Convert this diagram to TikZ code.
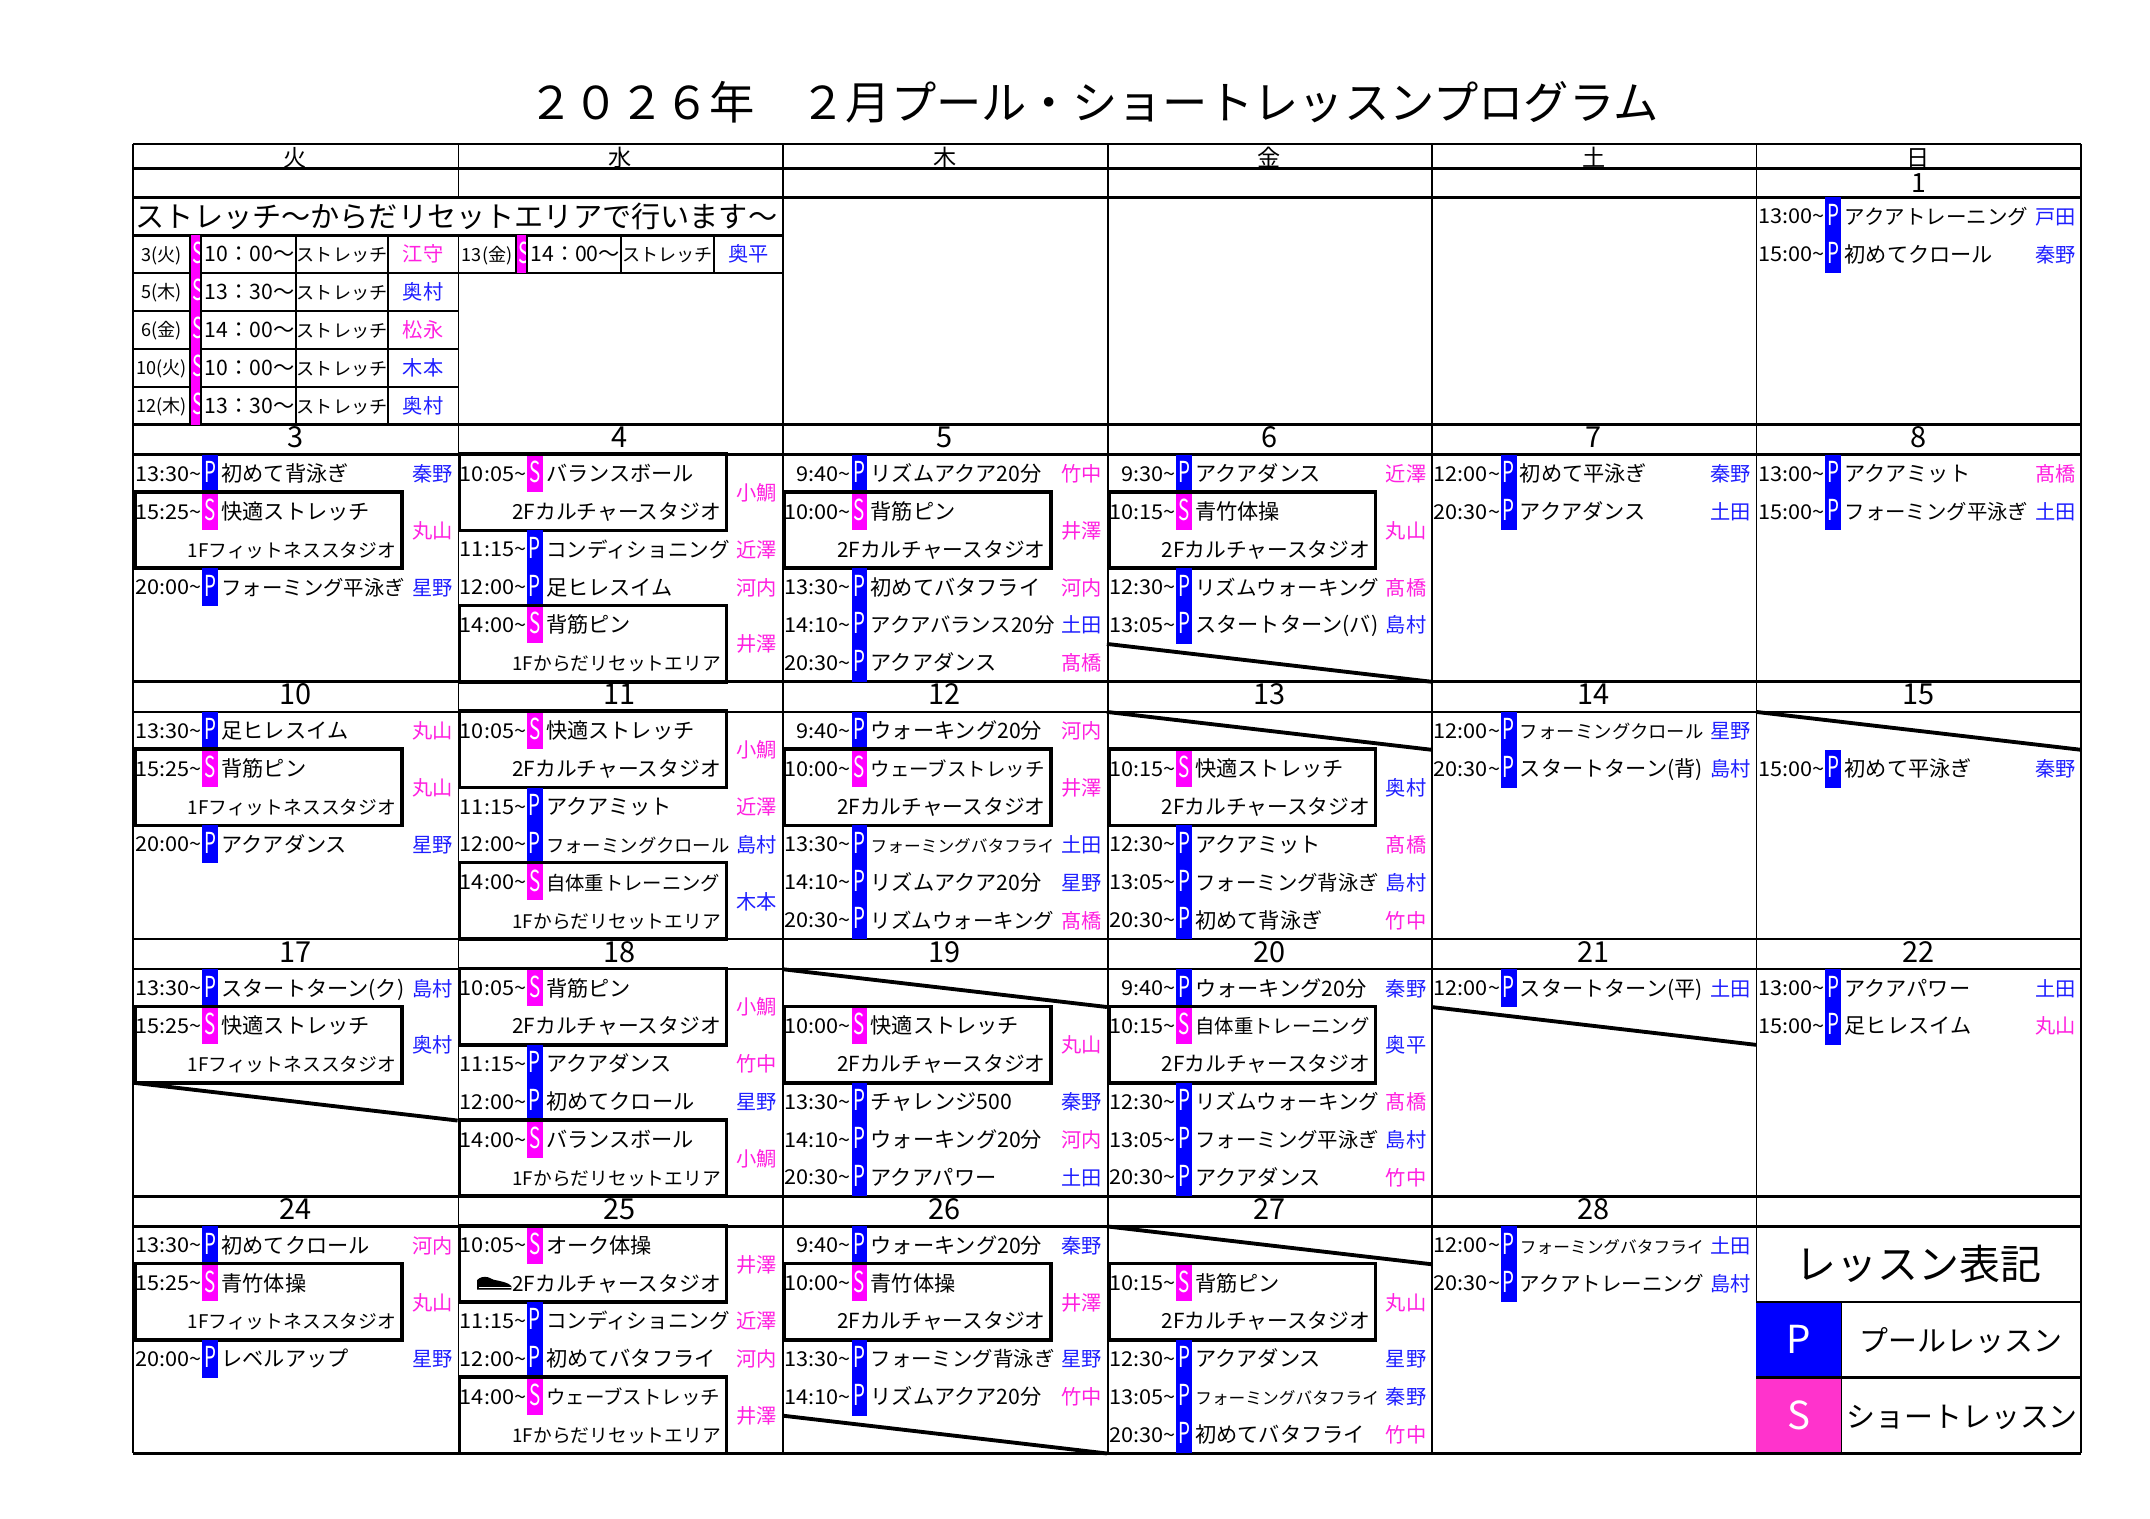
\documentclass[tikz,border=0pt]{standalone}
\usepackage{fontspec}
\usepackage{graphicx}
\setmainfont{Noto Sans CJK JP}
\newfontfamily\tfont{Noto Sans CJK JP}[FakeStretch=1.06]
\definecolor{barblue}{HTML}{0000FF}
\definecolor{barmag}{HTML}{FF00FF}
\definecolor{nB}{HTML}{1F1FFF}
\definecolor{nM}{HTML}{FF20E0}
\definecolor{legS}{HTML}{FF33CC}
\newdimen\upx \upx=0.2mm
\newsavebox\fitsave
\newcommand\fitw[2]{\sbox\fitsave{#2}\ifdim\wd\fitsave>#1\upx\resizebox{#1\upx}{!}{\usebox\fitsave}\else\usebox\fitsave\fi}
\newcommand\tld{\textasciitilde}
\def\wtop#1{\ifcase#1\or144\or331.6\or519.2\or706.8\or894.4\fi}
\newcommand\PE[7]{%
 \pgfmathsetmacro\xo{97+(#1-1)*236.75}%
 \pgfmathsetmacro\yo{\wtop{#2}+(#3-1)*27.6}%
 \fill[barblue] (\xo+50.5,\yo) rectangle (\xo+62,\yo+27.6);
 \node[bartext,anchor=base] at (\xo+56.25,\yo+20.3) {\scalebox{0.65}[1]{P}};
 \node[timetext,anchor=base east] at (\xo+50,\yo+19.3) {#4\tld};
 \node[titletext,anchor=base west] at (\xo+64.5,\yo+19.6) {\fitw{134}{#5}};
 \node[nametext,text=#7,anchor=base east] at (\xo+233,\yo+19.6) {#6};
}
\newcommand\SE[8]{%
 \pgfmathsetmacro\xo{97+(#1-1)*236.75}%
 \pgfmathsetmacro\yo{\wtop{#2}+(#3-1)*27.6}%
 \fill[barmag] (\xo+50.5,\yo) rectangle (\xo+62,\yo+27.1);
 \node[bartext,anchor=base] at (\xo+56.25,\yo+20.3) {\scalebox{0.65}[1]{S}};
 \node[timetext,anchor=base east] at (\xo+50,\yo+19.3) {#4\tld};
 \node[titletext,anchor=base west] at (\xo+64.5,\yo+19.6) {\fitw{127}{#5}};
 \node[titletext,anchor=base east] at (\xo+192,\yo+47.2) {\fitw{152}{#6}};
 \node[nametext,text=#8,anchor=base east] at (\xo+233,\yo+33.4) {#7};
 \draw[sframe] (\xo+1.5,\yo-0.5) rectangle (\xo+196,\yo+55.2);
}
\newcommand\DG[3]{%
 \pgfmathsetmacro\xo{97+(#1-1)*236.75}%
 \pgfmathsetmacro\yo{\wtop{#2}+(#3-1)*27.6}%
 \draw[diag] (\xo,\yo) -- (\xo+236.75,\yo+27.6);
}
\newcommand\ST[6]{%
 \pgfmathsetmacro\yo{144+#2*27.6}%
 \fill[barmag] (#1+41.5,\yo) rectangle (#1+49.5,\yo+27.6);
 \begin{scope}\clip (#1+41.5,\yo) rectangle (#1+49.5,\yo+27.6);
 \node[bartext,anchor=base] at (#1+47.5,\yo+20.3) {\scalebox{0.65}[1]{S}};\end{scope}
 \node[smalltext,anchor=base] at (#1+20.75,\yo+18.8) {\fitw{40}{#3}};
 \node[titletext,anchor=base] at (#1+85,\yo+19.4) {\fitw{68}{#4}};
 \node[titletext,anchor=base] at (#1+152.5,\yo+19.4) {\fitw{66}{ストレッチ}};
 \node[nametext,text=#6,anchor=base] at (#1+211.5,\yo+19.4) {#5};
}
\begin{document}
\begin{tikzpicture}[x=0.2mm,y=-0.2mm,
 txt/.style={inner sep=0pt,outer sep=0pt},
 timetext/.style={txt,font=\tfont\fontsize{8.5pt}{9pt}\selectfont},
 titletext/.style={txt,font=\fontsize{8.8pt}{9pt}\selectfont},
 nametext/.style={txt,font=\fontsize{8.4pt}{9pt}\selectfont},
 smalltext/.style={txt,font=\fontsize{7.5pt}{8pt}\selectfont},
 bartext/.style={txt,text=white,font=\fontsize{12pt}{12pt}\selectfont},
 datetext/.style={txt,font=\fontsize{12pt}{12pt}\selectfont},
 daytext/.style={txt,font=\fontsize{9.6pt}{10pt}\selectfont},
 sframe/.style={draw=black,line width=1.5pt},
 diag/.style={draw=black,line width=1.6pt},
 hline/.style={draw=black,line width=1.1pt},
 vline/.style={draw=black,line width=0.6pt},
 sline/.style={draw=black,line width=0.8pt}]
\fill[white] (0,0) rectangle (1568,1107.1);
\useasboundingbox (0,0) rectangle (1568,1107.1);
% title
\node[txt,anchor=base,font=\fontsize{18.8pt}{20pt}\selectfont] (title) at (797.5,87) {２０２６年　２月プール・ショートレッスンプログラム};
% day names (clipped by the header row)
\begin{scope}
\clip (97,105) rectangle (1517.5,123);
\foreach \d [count=\i] in {火,水,木,金,土,日}
 \node[daytext,anchor=base] (day\i) at (97+\i*236.75-118.375,121.5) {\d};
\end{scope}
% grid
\foreach \y in {105,123,144,309.6,331.6,497.2,519.2,684.8,706.8,872.4,894.4,1060}
 \draw[hline] (97,\y) -- (1517.5,\y);
\foreach \x in {97,571,808,1044.5,1281,1517.5}
 \draw[vline] (\x,105) -- (\x,1060);
\draw[vline] (334.5,105) -- (334.5,144);
\draw[vline] (334.5,171.6) -- (334.5,1060);
% dates
\node[datetext,anchor=base,font=\fontsize{11pt}{12pt}\selectfont] (d1) at (1399.25,140.5) {1};
\foreach \d [count=\i] in {3,4,5,6,7,8}
 \node[datetext,anchor=base] at (97+\i*236.75-118.375,326.5) {\d};
\foreach \d [count=\i] in {10,11,12,13,14,15}
 \node[datetext,anchor=base] at (97+\i*236.75-118.375,514.1) {\d};
\foreach \d [count=\i] in {17,18,19,20,21,22}
 \node[datetext,anchor=base] at (97+\i*236.75-118.375,701.7) {\d};
\foreach \d [count=\i] in {24,25,26,27,28}
 \node[datetext,anchor=base] at (97+\i*236.75-118.375,889.3) {\d};
% stretch table
\node[txt,anchor=base west,font=\fontsize{12.1pt}{13pt}\selectfont] (banner) at (99,166) {ストレッチ～からだリセットエリアで行います～};
\draw[hline] (97,171.6) -- (571,171.6);
\foreach \k in {2,3,4,5} \draw[sline] (97,144+\k*27.6) -- (334.5,144+\k*27.6);
\draw[sline] (334.5,199.2) -- (571,199.2);
\ST{97}{1}{3(火)}{10：00～}{江守}{nM}
\ST{97}{2}{5(木)}{13：30～}{奥村}{nB}
\ST{97}{3}{6(金)}{14：00～}{松永}{nM}
\ST{97}{4}{10(火)}{10：00～}{木本}{nB}
\ST{97}{5}{12(木)}{13：30～}{奥村}{nB}
\ST{334.5}{1}{13(金)}{14：00～}{奥平}{nB}
\foreach \x in {138.5,146.5,216,283} \draw[sline] (\x,171.6) -- (\x,309.6);
\foreach \x in {376.5,384.5,453,521} \draw[sline] (\x,171.6) -- (\x,199.2);
% week 1
\PE{6}{1}{1}{13:00}{アクアトレーニング}{戸田}{nB}
\PE{6}{1}{2}{15:00}{初めてクロール}{秦野}{nB}
% week 2
\PE{1}{2}{1}{13:30}{初めて背泳ぎ}{秦野}{nB}
\SE{1}{2}{2}{15:25}{快適ストレッチ}{1Fフィットネススタジオ}{丸山}{nM}
\PE{1}{2}{4}{20:00}{フォーミング平泳ぎ}{星野}{nB}
\SE{2}{2}{1}{10:05}{バランスボール}{2Fカルチャースタジオ}{小鯛}{nM}
\PE{2}{2}{3}{11:15}{コンディショニング}{近澤}{nM}
\PE{2}{2}{4}{12:00}{足ヒレスイム}{河内}{nM}
\SE{2}{2}{5}{14:00}{背筋ピン}{1Fからだリセットエリア}{井澤}{nM}
\PE{3}{2}{1}{9:40}{リズムアクア20分}{竹中}{nM}
\SE{3}{2}{2}{10:00}{背筋ピン}{2Fカルチャースタジオ}{井澤}{nM}
\PE{3}{2}{4}{13:30}{初めてバタフライ}{河内}{nM}
\PE{3}{2}{5}{14:10}{アクアバランス20分}{土田}{nB}
\PE{3}{2}{6}{20:30}{アクアダンス}{髙橋}{nM}
\PE{4}{2}{1}{9:30}{アクアダンス}{近澤}{nM}
\SE{4}{2}{2}{10:15}{青竹体操}{2Fカルチャースタジオ}{丸山}{nM}
\PE{4}{2}{4}{12:30}{リズムウォーキング}{髙橋}{nM}
\PE{4}{2}{5}{13:05}{スタートターン(バ)}{島村}{nB}
\DG{4}{2}{6}
\PE{5}{2}{1}{12:00}{初めて平泳ぎ}{秦野}{nB}
\PE{5}{2}{2}{20:30}{アクアダンス}{土田}{nB}
\PE{6}{2}{1}{13:00}{アクアミット}{髙橋}{nM}
\PE{6}{2}{2}{15:00}{フォーミング平泳ぎ}{土田}{nB}
% week 3
\PE{1}{3}{1}{13:30}{足ヒレスイム}{丸山}{nM}
\SE{1}{3}{2}{15:25}{背筋ピン}{1Fフィットネススタジオ}{丸山}{nM}
\PE{1}{3}{4}{20:00}{アクアダンス}{星野}{nB}
\SE{2}{3}{1}{10:05}{快適ストレッチ}{2Fカルチャースタジオ}{小鯛}{nM}
\PE{2}{3}{3}{11:15}{アクアミット}{近澤}{nM}
\PE{2}{3}{4}{12:00}{フォーミングクロール}{島村}{nB}
\SE{2}{3}{5}{14:00}{自体重トレーニング}{1Fからだリセットエリア}{木本}{nB}
\PE{3}{3}{1}{9:40}{ウォーキング20分}{河内}{nM}
\SE{3}{3}{2}{10:00}{ウェーブストレッチ}{2Fカルチャースタジオ}{井澤}{nM}
\PE{3}{3}{4}{13:30}{フォーミングバタフライ}{土田}{nB}
\PE{3}{3}{5}{14:10}{リズムアクア20分}{星野}{nB}
\PE{3}{3}{6}{20:30}{リズムウォーキング}{髙橋}{nM}
\DG{4}{3}{1}
\SE{4}{3}{2}{10:15}{快適ストレッチ}{2Fカルチャースタジオ}{奥村}{nB}
\PE{4}{3}{4}{12:30}{アクアミット}{髙橋}{nM}
\PE{4}{3}{5}{13:05}{フォーミング背泳ぎ}{島村}{nB}
\PE{4}{3}{6}{20:30}{初めて背泳ぎ}{竹中}{nM}
\PE{5}{3}{1}{12:00}{フォーミングクロール}{星野}{nB}
\PE{5}{3}{2}{20:30}{スタートターン(背)}{島村}{nB}
\DG{6}{3}{1}
\PE{6}{3}{2}{15:00}{初めて平泳ぎ}{秦野}{nB}
% week 4
\PE{1}{4}{1}{13:30}{スタートターン(ク)}{島村}{nB}
\SE{1}{4}{2}{15:25}{快適ストレッチ}{1Fフィットネススタジオ}{奥村}{nB}
\DG{1}{4}{4}
\SE{2}{4}{1}{10:05}{背筋ピン}{2Fカルチャースタジオ}{小鯛}{nM}
\PE{2}{4}{3}{11:15}{アクアダンス}{竹中}{nM}
\PE{2}{4}{4}{12:00}{初めてクロール}{星野}{nB}
\SE{2}{4}{5}{14:00}{バランスボール}{1Fからだリセットエリア}{小鯛}{nM}
\DG{3}{4}{1}
\SE{3}{4}{2}{10:00}{快適ストレッチ}{2Fカルチャースタジオ}{丸山}{nM}
\PE{3}{4}{4}{13:30}{チャレンジ500}{秦野}{nB}
\PE{3}{4}{5}{14:10}{ウォーキング20分}{河内}{nM}
\PE{3}{4}{6}{20:30}{アクアパワー}{土田}{nB}
\PE{4}{4}{1}{9:40}{ウォーキング20分}{秦野}{nB}
\SE{4}{4}{2}{10:15}{自体重トレーニング}{2Fカルチャースタジオ}{奥平}{nB}
\PE{4}{4}{4}{12:30}{リズムウォーキング}{髙橋}{nM}
\PE{4}{4}{5}{13:05}{フォーミング平泳ぎ}{島村}{nB}
\PE{4}{4}{6}{20:30}{アクアダンス}{竹中}{nM}
\PE{5}{4}{1}{12:00}{スタートターン(平)}{土田}{nB}
\DG{5}{4}{2}
\PE{6}{4}{1}{13:00}{アクアパワー}{土田}{nB}
\PE{6}{4}{2}{15:00}{足ヒレスイム}{丸山}{nM}
% week 5
\PE{1}{5}{1}{13:30}{初めてクロール}{河内}{nM}
\SE{1}{5}{2}{15:25}{青竹体操}{1Fフィットネススタジオ}{丸山}{nM}
\PE{1}{5}{4}{20:00}{レベルアップ}{星野}{nB}
\SE{2}{5}{1}{10:05}{オーク体操}{2Fカルチャースタジオ}{井澤}{nM}
\PE{2}{5}{3}{11:15}{コンディショニング}{近澤}{nM}
\PE{2}{5}{4}{12:00}{初めてバタフライ}{河内}{nM}
\SE{2}{5}{5}{14:00}{ウェーブストレッチ}{1Fからだリセットエリア}{井澤}{nM}
\PE{3}{5}{1}{9:40}{ウォーキング20分}{秦野}{nB}
\SE{3}{5}{2}{10:00}{青竹体操}{2Fカルチャースタジオ}{井澤}{nM}
\PE{3}{5}{4}{13:30}{フォーミング背泳ぎ}{星野}{nB}
\PE{3}{5}{5}{14:10}{リズムアクア20分}{竹中}{nM}
\DG{3}{5}{6}
\DG{4}{5}{1}
\SE{4}{5}{2}{10:15}{背筋ピン}{2Fカルチャースタジオ}{丸山}{nM}
\PE{4}{5}{4}{12:30}{アクアダンス}{星野}{nB}
\PE{4}{5}{5}{13:05}{フォーミングバタフライ}{秦野}{nB}
\PE{4}{5}{6}{20:30}{初めてバタフライ}{竹中}{nM}
\PE{5}{5}{1}{12:00}{フォーミングバタフライ}{土田}{nB}
\PE{5}{5}{2}{20:30}{アクアトレーニング}{島村}{nB}
% shoe icon
\fill[black] (348,940.5) -- (348,933.5) .. controls (350,931.3) and (353,930.8) .. (356,931.5) -- (360,933.3) .. controls (365,934.3) and (371,935.3) .. (373,938) -- (373,940.5) -- cycle;
\draw[white,line width=0.4pt] (349,938.8) -- (372.5,938.8);
% legend
\fill[barblue] (1281,949.6) rectangle (1343,1004.8);
\fill[legS] (1281,1004.8) rectangle (1343,1060);
\draw[hline] (1281,949.6) -- (1517.5,949.6);
\draw[hline] (1281,1004.8) -- (1517.5,1004.8);
\draw[vline] (1343,949.6) -- (1343,1060);
\draw[hline] (1281,1060) -- (1517.5,1060);
\node[txt,anchor=base,font=\fontsize{17pt}{18pt}\selectfont] (legtitle) at (1399.25,933) {レッスン表記};
\node[txt,anchor=base,text=white,font=\fontsize{16pt}{16pt}\selectfont] (legP) at (1312,987) {P};
\node[txt,anchor=base,text=white,font=\fontsize{16pt}{16pt}\selectfont] (legS) at (1312,1042.2) {S};
\node[txt,anchor=base,font=\fontsize{12pt}{13pt}\selectfont] (legPt) at (1430,985.5) {プールレッスン};
\node[txt,anchor=base,font=\fontsize{12pt}{13pt}\selectfont] (legSt) at (1431,1040.7) {ショートレッスン};
\end{tikzpicture}
\end{document}
